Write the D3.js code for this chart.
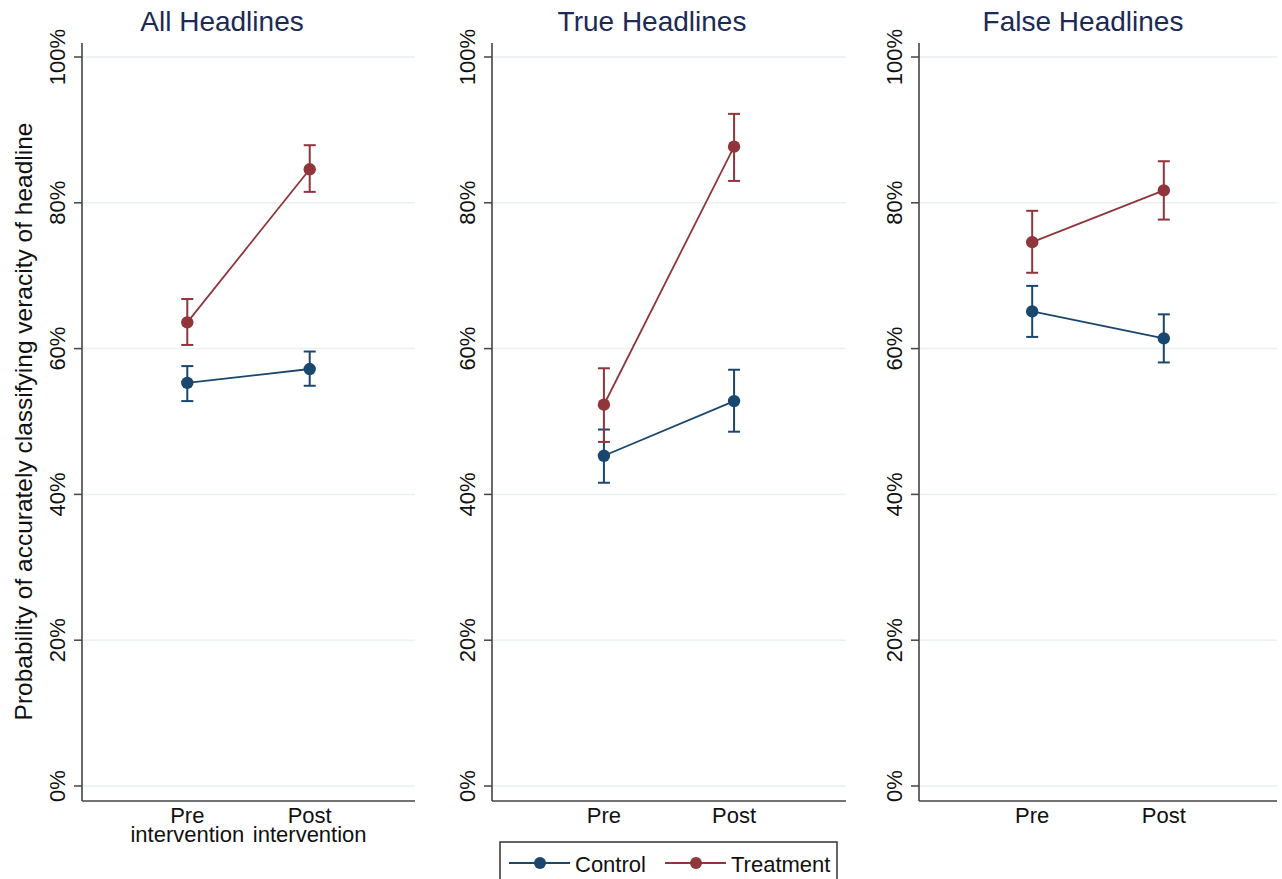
<!DOCTYPE html>
<html>
<head>
<meta charset="utf-8">
<script src="https://cdn.jsdelivr.net/npm/d3@7"></script>
<style>
  body { margin: 0; background: #fff; }
  svg { font-family: "Liberation Sans", Arial, Helvetica, sans-serif; }
</style>
</head>
<body>
<svg id="chart" width="1282" height="879"></svg>
<script>
const panelTitles = ['All Headlines', 'True Headlines', 'False Headlines'];
const periods = [1, 2];
const periodLabels = [
  [['Pre', 'intervention'], ['Post', 'intervention']],
  [['Pre'], ['Post']],
  [['Pre'], ['Post']]
];
const yTicks = [0, 20, 40, 60, 80, 100];

// values in percent, [pre, post] per panel
const controlMean = [[55.3, 57.2], [45.3, 52.8], [65.1, 61.4]];
const controlLo   = [[52.8, 54.9], [41.6, 48.6], [61.6, 58.1]];
const controlHi   = [[57.6, 59.6], [48.9, 57.1], [68.6, 64.7]];
const treatMean   = [[63.6, 84.6], [52.3, 87.7], [74.6, 81.7]];
const treatLo     = [[60.5, 81.5], [47.2, 83.0], [70.4, 77.7]];
const treatHi     = [[66.8, 87.9], [57.3, 92.2], [78.9, 85.7]];

const series = [
  { name: 'Control', color: '#1a476f', mean: controlMean, lo: controlLo, hi: controlHi },
  { name: 'Treatment', color: '#90353b', mean: treatMean, lo: treatLo, hi: treatHi }
];

const svg = d3.select('#chart');

const plotLeft = [82, 492, 919];
const plotRight = [415, 846, 1277];
const titleX = [222, 652, 1083];
const plotTop = 43, plotBottom = 801;

const y = d3.scaleLinear().domain([0, 100]).range([786, 57]);

panelTitles.forEach((title, p) => {
  const g = svg.append('g');
  const x = d3.scaleLinear().domain([0.14, 2.86]).range([plotLeft[p], plotRight[p]]);

  // gridlines
  g.append('g')
    .selectAll('line')
    .data(yTicks)
    .join('line')
    .attr('x1', plotLeft[p] + 1)
    .attr('x2', plotRight[p])
    .attr('y1', d => y(d))
    .attr('y2', d => y(d))
    .attr('stroke', '#e9f1f3')
    .attr('stroke-width', 1.5);

  // axes
  g.append('line')
    .attr('x1', plotLeft[p]).attr('x2', plotLeft[p])
    .attr('y1', plotTop).attr('y2', plotBottom)
    .attr('stroke', '#444').attr('stroke-width', 1.6);
  g.append('line')
    .attr('x1', plotLeft[p]).attr('x2', plotRight[p])
    .attr('y1', plotBottom).attr('y2', plotBottom)
    .attr('stroke', '#444').attr('stroke-width', 1.6);

  // y ticks
  g.append('g')
    .selectAll('line')
    .data(yTicks)
    .join('line')
    .attr('x1', plotLeft[p] - 8)
    .attr('x2', plotLeft[p])
    .attr('y1', d => y(d))
    .attr('y2', d => y(d))
    .attr('stroke', '#444')
    .attr('stroke-width', 1.5);

  g.append('g')
    .selectAll('text')
    .data(yTicks)
    .join('text')
    .attr('transform', d => `translate(${plotLeft[p] - 17},${y(d)}) rotate(-90)`)
    .attr('text-anchor', 'middle')
    .attr('font-size', 22)
    .attr('fill', '#111')
    .text(d => d + '%');

  // x tick labels, one text per line
  periods.forEach((v, i) => {
    periodLabels[p][i].forEach((line, k) => {
      g.append('text')
        .attr('x', x(v))
        .attr('y', 823 + k * 19)
        .attr('text-anchor', 'middle')
        .attr('font-size', 22)
        .attr('fill', '#111')
        .text(line);
    });
  });

  // title
  g.append('text')
    .attr('x', titleX[p])
    .attr('y', 31)
    .attr('text-anchor', 'middle')
    .attr('font-size', 28)
    .attr('fill', '#1c2a56')
    .text(title);

  // series
  series.forEach(s => {
    const pts = periods.map((v, i) => ({
      x: v, m: s.mean[p][i], lo: s.lo[p][i], hi: s.hi[p][i]
    }));
    const sg = g.append('g');

    // error bars
    sg.selectAll('line.bar')
      .data(pts)
      .join('line')
      .attr('class', 'bar')
      .attr('x1', d => x(d.x)).attr('x2', d => x(d.x))
      .attr('y1', d => y(d.lo)).attr('y2', d => y(d.hi))
      .attr('stroke', s.color).attr('stroke-width', 2);
    ['lo', 'hi'].forEach(k => {
      sg.selectAll('line.cap-' + k)
        .data(pts)
        .join('line')
        .attr('class', 'cap-' + k)
        .attr('x1', d => x(d.x) - 6).attr('x2', d => x(d.x) + 6)
        .attr('y1', d => y(d[k])).attr('y2', d => y(d[k]))
        .attr('stroke', s.color).attr('stroke-width', 2);
    });

    sg.append('path')
      .datum(pts)
      .attr('fill', 'none')
      .attr('stroke', s.color)
      .attr('stroke-width', 1.8)
      .attr('d', d3.line().x(d => x(d.x)).y(d => y(d.m)));

    sg.selectAll('circle')
      .data(pts)
      .join('circle')
      .attr('cx', d => x(d.x))
      .attr('cy', d => y(d.m))
      .attr('r', 6.2)
      .attr('fill', s.color);
  });
});

// y-axis title
svg.append('text')
  .attr('transform', `translate(32,${(y(0) + y(100)) / 2}) rotate(-90)`)
  .attr('text-anchor', 'middle')
  .attr('font-size', 24.5)
  .attr('fill', '#111')
  .text('Probability of accurately classifying veracity of headline');

// legend
const legend = svg.append('g');
legend.append('rect')
  .attr('x', 500).attr('y', 842)
  .attr('width', 337).attr('height', 50)
  .attr('fill', '#fff')
  .attr('stroke', '#333')
  .attr('stroke-width', 1.5);

const legendX = [509, 665];
series.forEach((s, i) => {
  const lx = legendX[i];
  legend.append('line')
    .attr('x1', lx).attr('x2', lx + 61)
    .attr('y1', 863).attr('y2', 863)
    .attr('stroke', s.color).attr('stroke-width', 1.8);
  legend.append('circle')
    .attr('cx', lx + 31).attr('cy', 863).attr('r', 6)
    .attr('fill', s.color);
  legend.append('text')
    .attr('x', lx + 66).attr('y', 872)
    .attr('font-size', 22)
    .attr('fill', '#111')
    .text(s.name);
});
</script>
</body>
</html>
